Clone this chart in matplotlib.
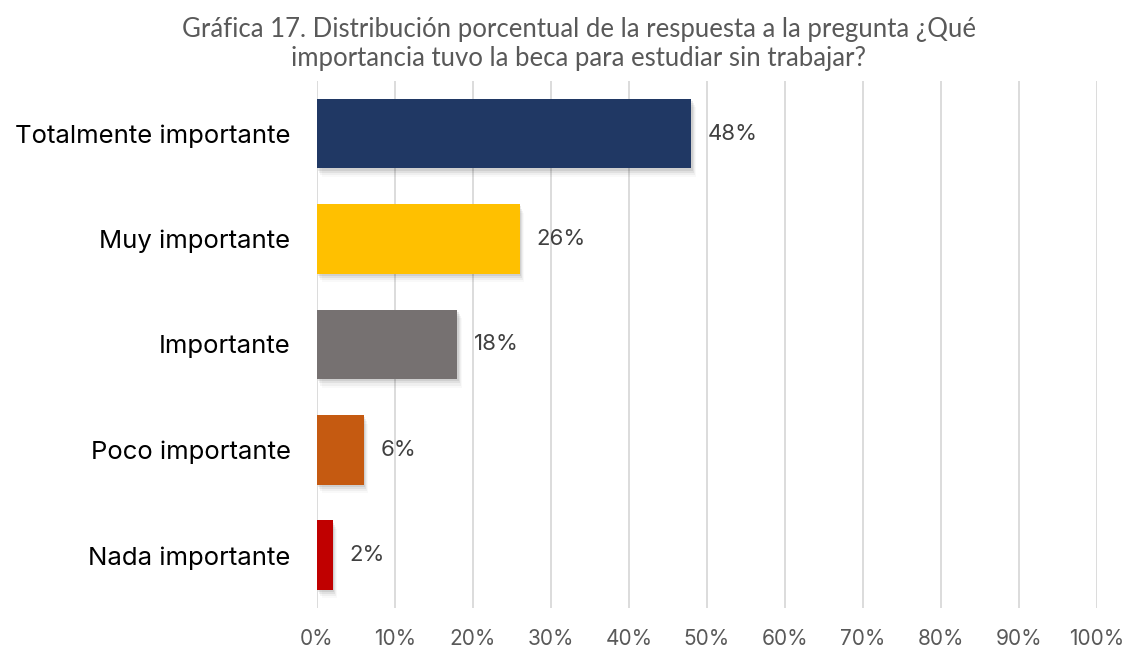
import matplotlib
matplotlib.use("Agg")
import matplotlib.pyplot as plt
from matplotlib.patches import Rectangle

categories = ["Totalmente importante", "Muy importante", "Importante",
              "Poco importante", "Nada importante"]
values = [48, 26, 18, 6, 2]
colors = ["#203864", "#FFC000", "#767171", "#C55A11", "#C00000"]
xticks = [0, 10, 20, 30, 40, 50, 60, 70, 80, 90, 100]
title = ("Gráfica 17. Distribución porcentual de la respuesta a la pregunta ¿Qué\n"
         "importancia tuvo la beca para estudiar sin trabajar?")

LABEL_FONT = ["Inter", "DejaVu Sans"]
TITLE_FONT = ["Lato", "DejaVu Sans"]

fig = plt.figure(figsize=(11.24, 6.51), dpi=100)
ax = fig.add_axes([0.2820, 0.0661, 0.6940, 0.8095])

ypos = list(range(len(categories)))
bar_h = 0.66

# soft drop shadow below/right of each bar (y axis is inverted)
for (dx, dy, a) in ((0.15, 0.02, 0.08), (0.3, 0.04, 0.06),
                    (0.45, 0.06, 0.04), (0.6, 0.08, 0.025)):
    for y, v in zip(ypos, values):
        ax.add_patch(Rectangle((dx, y - bar_h / 2 + dy), v, bar_h,
                               facecolor="#000000", alpha=a, lw=0, zorder=2))

ax.barh(ypos, values, height=bar_h, color=colors, zorder=3)

for y, v in zip(ypos, values):
    ax.annotate(f"{v}%", xy=(v, y), xytext=(12, 0), textcoords="offset points",
                ha="left", va="center", fontsize=16, color="#404040",
                family=LABEL_FONT)

ax.set_xlim(0, 100)
ax.set_ylim(4.5, -0.5)
ax.set_xticks(xticks)
ax.set_xticklabels([f"{t}%" for t in xticks], fontsize=15, color="#595959",
                   family=LABEL_FONT)
ax.set_yticks(ypos)
ax.set_yticklabels(categories, fontsize=18.5, color="#000000", family=LABEL_FONT)
ax.tick_params(axis="x", length=0, pad=15)
ax.tick_params(axis="y", length=0, pad=19)
ax.grid(axis="x", color="#D9D9D9", lw=1.3, zorder=0)
ax.set_axisbelow(True)
for s in ax.spines.values():
    s.set_visible(False)

fig.text(0.515, 0.932, title, ha="center", va="center", fontsize=18.5,
         color="#595959", family=TITLE_FONT, linespacing=1.2)

fig.savefig("out.png", dpi=100)
